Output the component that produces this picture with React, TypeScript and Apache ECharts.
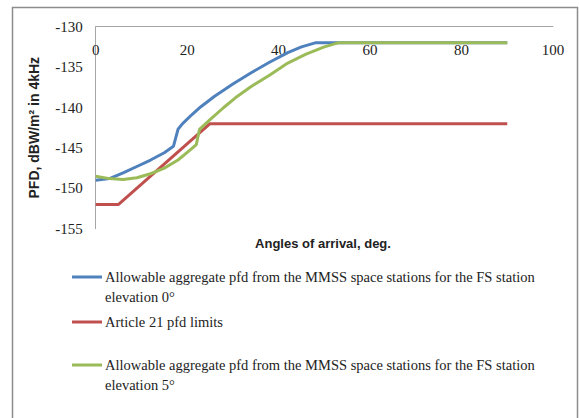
import React, { useEffect, useRef } from "react";
import * as echarts from "echarts";

const xTicks = [0, 20, 40, 60, 80, 100];
const yTicks = [-155, -150, -145, -140, -135, -130];

const elev0: [number, number][] = [
  [0, -149.0], [3, -148.8], [6, -148.1], [9, -147.3], [12, -146.5], [15, -145.6],
  [17, -144.8], [18, -142.7], [19, -142.0], [21, -140.9], [23, -139.9], [26, -138.6],
  [30, -137.1], [34, -135.7], [38, -134.4], [42, -133.2], [45, -132.5], [48, -132.0],
  [52, -132.0], [90, -132.0],
];

const art21: [number, number][] = [
  [0, -152], [5, -152], [25, -142], [90, -142],
];

const elev5: [number, number][] = [
  [0, -148.5], [3, -148.8], [6, -148.9], [9, -148.7], [12, -148.2], [15, -147.5],
  [18, -146.5], [21, -145.1], [22, -144.6], [22.7, -142.7], [25, -141.5], [28, -140.0],
  [31, -138.6], [34, -137.4], [38, -136.0], [42, -134.5], [46, -133.4], [50, -132.5],
  [53, -132.0], [90, -132.0],
];

const seriesNames = [
  "Allowable aggregate pfd from the MMSS space stations for the FS station\nelevation 0°",
  "Article 21 pfd limits",
  "Allowable aggregate pfd from the MMSS space stations for the FS station\nelevation 5°",
];
const colors = ["#4F81BD", "#C0504D", "#9BBB59"];

export default function App() {
  const ref = useRef<HTMLDivElement>(null);
  useEffect(() => {
    if (!ref.current) return;
    const chart = echarts.init(ref.current, undefined, { renderer: "svg" });
    const legendY = [277, 322, 365];
    const legendGraphics: any[] = [];
    seriesNames.forEach((name, i) => {
      legendGraphics.push({
        type: "line",
        shape: { x1: 72, y1: legendY[i], x2: 102, y2: legendY[i] },
        style: { stroke: colors[i], lineWidth: 3 },
      });
      legendGraphics.push({
        type: "text",
        x: 105,
        y: legendY[i] - 10,
        style: {
          text: name,
          font: "14.5px 'Liberation Serif'",
          fill: "#222",
          lineHeight: 20,
        },
      });
    });
    chart.setOption({
      animation: false,
      grid: { left: 95.7, right: 26, top: 26.7, bottom: 189.3, containLabel: false },
      xAxis: {
        type: "value",
        min: xTicks[0],
        max: xTicks[xTicks.length - 1],
        interval: 20,
        position: "top",
        axisLine: { show: true, lineStyle: { color: "#A6A6A6", width: 1 } },
        axisTick: { show: false },
        splitLine: { show: false },
        axisLabel: {
          inside: true,
          margin: 16,
          color: "#222",
          fontFamily: "Liberation Serif",
          fontSize: 15,
        },
      },
      yAxis: {
        type: "value",
        min: yTicks[0],
        max: yTicks[yTicks.length - 1],
        interval: 5,
        axisLine: { show: true, lineStyle: { color: "#A6A6A6", width: 1 } },
        axisTick: { show: false },
        splitLine: { show: false },
        axisLabel: {
          margin: 13,
          color: "#222",
          fontFamily: "Liberation Serif",
          fontSize: 15,
        },
        name: "PFD, dBW/m² in 4kHz",
        nameLocation: "middle",
        nameRotate: 90,
        nameGap: 55,
        nameTextStyle: {
          fontFamily: "Liberation Sans",
          fontWeight: "bold",
          fontSize: 14,
          color: "#222",
        },
      },
      series: [elev0, art21, elev5].map((d, i) => ({
        type: "line",
        name: seriesNames[i],
        data: d,
        symbol: "none",
        smooth: false,
        lineStyle: { color: colors[i], width: 3 },
        z: i === 1 ? 2 : 3,
      })),
      graphic: [
        {
          type: "rect",
          shape: { x: 12.5, y: 7.5, width: 565, height: 420 },
          style: { fill: "none", stroke: "#8C8C8C", lineWidth: 1.5 },
          silent: true,
        },
        {
          type: "text",
          x: 323,
          y: 243,
          style: {
            text: "Angles of arrival, deg.",
            font: "bold 13px 'Liberation Sans'",
            fill: "#222",
            align: "center",
            verticalAlign: "middle",
          },
        },
        ...legendGraphics,
      ],
    });
    return () => chart.dispose();
  }, []);
  return <div ref={ref} style={{ width: 579, height: 418, position: "absolute", left: 0, top: 0 }} />;
}
